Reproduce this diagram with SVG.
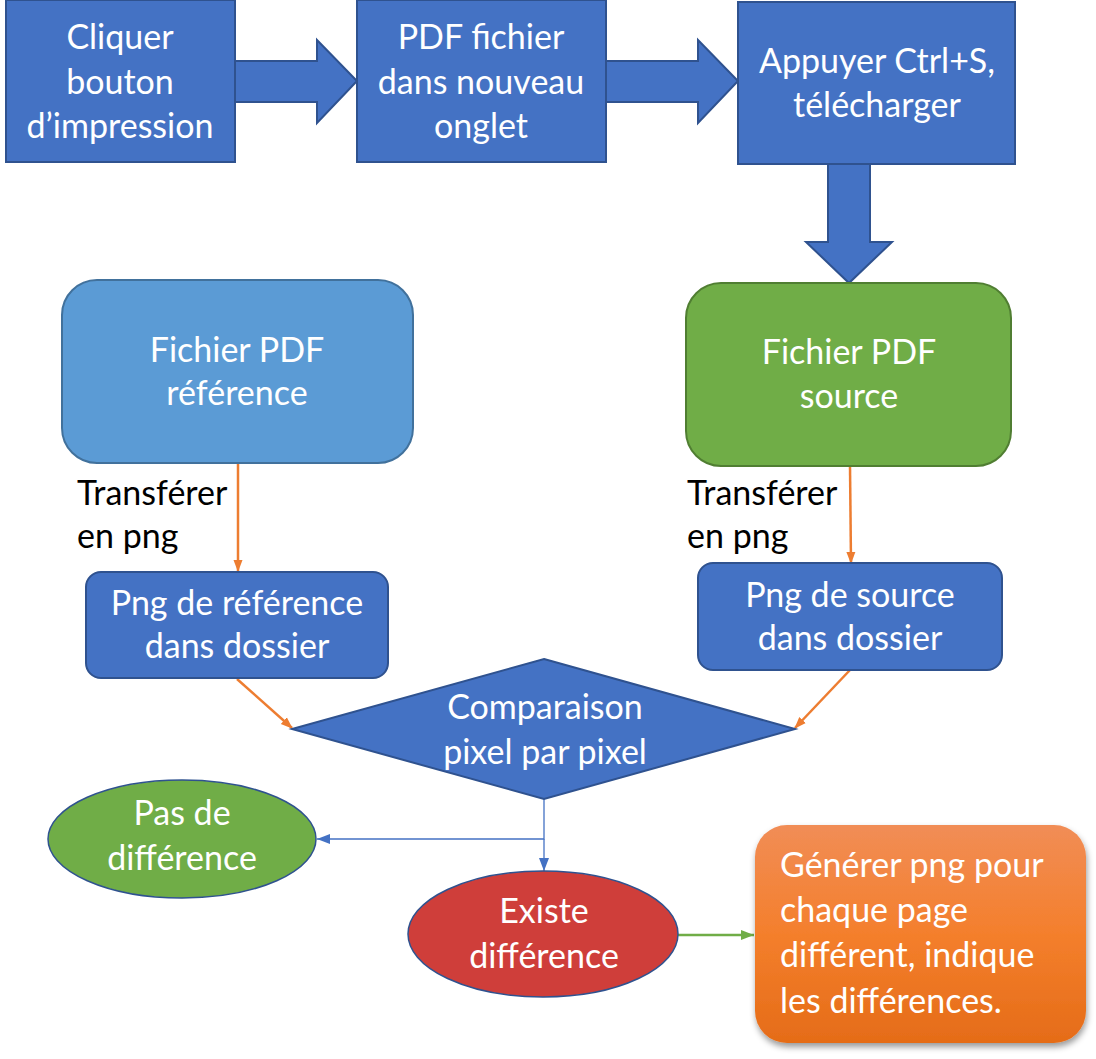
<svg xmlns="http://www.w3.org/2000/svg" width="1096" height="1059" viewBox="0 0 1096 1059">
<style>
.t{font-family:Lato,"Open Sans","Liberation Sans",sans-serif;font-size:34px;fill:#fff;text-anchor:middle}
.lbl{font-family:Lato,"Open Sans","Liberation Sans",sans-serif;font-size:34px;fill:#000}
.blue{fill:#4472C4;stroke:#2F528F;stroke-width:2}
.orl{stroke:#ED7D31;stroke-width:2.5;fill:none}
.bll{stroke:#4472C4;stroke-width:1.3;fill:none}
.grl{stroke:#70AD47;stroke-width:2.5;fill:none}
</style>
<defs>
<marker id="ao" markerWidth="12" markerHeight="12" refX="11" refY="6" orient="auto" markerUnits="userSpaceOnUse"><path d="M0,1.5 L12,6 L0,10.5 z" fill="#ED7D31"/></marker>
<marker id="ab" markerWidth="14" markerHeight="12" refX="13" refY="6" orient="auto" markerUnits="userSpaceOnUse"><path d="M0,1 L13,6 L0,11 z" fill="#4472C4"/></marker>
<marker id="ag" markerWidth="14" markerHeight="12" refX="13" refY="6" orient="auto" markerUnits="userSpaceOnUse"><path d="M0,1 L13,6 L0,11 z" fill="#70AD47"/></marker>
<linearGradient id="og" x1="0" y1="0" x2="0" y2="1"><stop offset="0" stop-color="#F18D56"/><stop offset="0.5" stop-color="#F47F2C"/><stop offset="1" stop-color="#E56C18"/></linearGradient>
<filter id="sh" x="-10%" y="-10%" width="125%" height="125%"><feDropShadow dx="1" dy="4" stdDeviation="3" flood-color="#000" flood-opacity="0.4"/></filter>
</defs>

<g id="connectors">
<path class="blue" d="M235,61 L317,61 L317,40 L357,81 L317,123 L317,102 L235,102 z"/>
<path class="blue" d="M606,61 L698,61 L698,40 L738,81 L698,123 L698,102 L606,102 z"/>
<path class="blue" d="M828,164 L828,242 L806,242 L849,283 L892,242 L870,242 L870,164 z"/>
<line class="orl" x1="238" y1="463" x2="238" y2="571" marker-end="url(#ao)"/>
<line class="orl" x1="850" y1="466" x2="851" y2="563" marker-end="url(#ao)"/>
<line class="orl" x1="237" y1="679" x2="292" y2="728" marker-end="url(#ao)"/>
<line class="orl" x1="850" y1="670" x2="795" y2="728" marker-end="url(#ao)"/>
<polyline class="bll" points="544,799 544,839 317,839" marker-end="url(#ab)"/>
<line class="bll" x1="544" y1="839" x2="544" y2="871" marker-end="url(#ab)"/>
<line class="grl" x1="678" y1="935" x2="754" y2="935" marker-end="url(#ag)"/>
</g>

<g id="n1">
<rect class="blue" x="6" y="0" width="229" height="162"/>
<text class="t" x="120" y="49">Cliquer</text>
<text class="t" x="120" y="94">bouton</text>
<text class="t" x="120" y="138">d’impression</text>
</g>
<g id="n2">
<rect class="blue" x="357" y="0" width="249" height="162"/>
<text class="t" x="481" y="49">PDF fichier</text>
<text class="t" x="481" y="94">dans nouveau</text>
<text class="t" x="481" y="138">onglet</text>
</g>
<g id="n3">
<rect class="blue" x="738" y="2" width="277" height="162"/>
<text class="t" x="877" y="73">Appuyer Ctrl+S,</text>
<text class="t" x="877" y="117">télécharger</text>
</g>
<g id="n4">
<rect x="62" y="280" width="351" height="183" rx="35" fill="#5B9BD5" stroke="#41719C" stroke-width="2"/>
<text class="t" x="237" y="362">Fichier PDF</text>
<text class="t" x="237" y="405">référence</text>
</g>
<g id="n5">
<rect x="686" y="283" width="325" height="183" rx="35" fill="#70AD47" stroke="#507E32" stroke-width="2"/>
<text class="t" x="849" y="364">Fichier PDF</text>
<text class="t" x="849" y="408">source</text>
</g>
<g id="l1">
<text class="lbl" x="77" y="505">Transférer</text>
<text class="lbl" x="77" y="548">en png</text>
</g>
<g id="l2">
<text class="lbl" x="687" y="505">Transférer</text>
<text class="lbl" x="687" y="548">en png</text>
</g>
<g id="n6">
<rect class="blue" x="86" y="572" width="302" height="106" rx="15"/>
<text class="t" x="237" y="615">Png de référence</text>
<text class="t" x="237" y="658">dans dossier</text>
</g>
<g id="n7">
<rect class="blue" x="698" y="563" width="304" height="107" rx="15"/>
<text class="t" x="850" y="607">Png de source</text>
<text class="t" x="850" y="650">dans dossier</text>
</g>
<g id="n8">
<polygon class="blue" points="544,659 795,729 544,799 292,729"/>
<text class="t" x="545" y="719">Comparaison</text>
<text class="t" x="545" y="764">pixel par pixel</text>
</g>
<g id="n9">
<ellipse cx="182" cy="839" rx="134" ry="59" fill="#70AD47" stroke="#2F528F" stroke-width="1.5"/>
<text class="t" x="182" y="825">Pas de</text>
<text class="t" x="182" y="870">différence</text>
</g>
<g id="n10">
<ellipse cx="543" cy="934" rx="135" ry="63" fill="#CF3E3A" stroke="#2F528F" stroke-width="1.5"/>
<text class="t" x="544" y="923">Existe</text>
<text class="t" x="544" y="968">différence</text>
</g>
<g id="n11">
<rect x="755" y="825" width="331" height="218" rx="32" fill="url(#og)" filter="url(#sh)"/>
<text class="t" style="text-anchor:start" x="780" y="877">Générer png pour</text>
<text class="t" style="text-anchor:start" x="780" y="922">chaque page</text>
<text class="t" style="text-anchor:start" x="780" y="967">différent, indique</text>
<text class="t" style="text-anchor:start" x="780" y="1013">les différences.</text>
</g>
</svg>
